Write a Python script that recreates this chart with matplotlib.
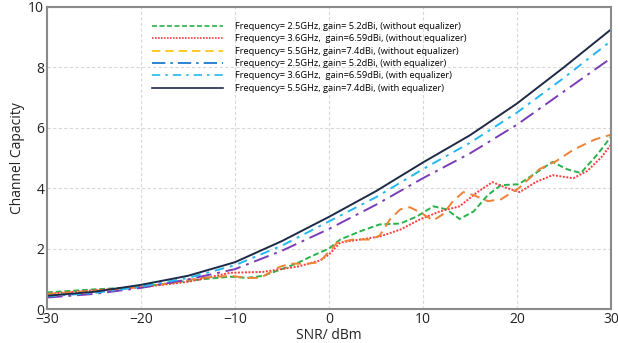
import matplotlib
matplotlib.use("Agg")
import matplotlib.pyplot as plt
from matplotlib.lines import Line2D

plt.rcParams['font.family'] = ['Open Sans', 'DejaVu Sans']

# Smooth "with equalizer" curves
snr_eq = [-30, -25, -20, -15, -10, -5, 0, 5, 10, 15, 20, 25, 30]
cap_25_eq = [0.38, 0.50, 0.70, 0.98, 1.32, 1.93, 2.65, 3.45, 4.33, 5.15, 6.10, 7.2, 8.3]
cap_36_eq = [0.42, 0.53, 0.74, 1.03, 1.45, 2.10, 2.90, 3.70, 4.63, 5.50, 6.50, 7.65, 8.87]
cap_55_eq = [0.44, 0.57, 0.80, 1.10, 1.55, 2.25, 3.05, 3.90, 4.85, 5.75, 6.80, 8.0, 9.25]

# Noisy "without equalizer" curves
snr_25 = [-30, -25, -20, -16, -13, -10.5, -8.7, -7, -5.2, -3.5, -1.7, 0, 1.2, 3.3, 5.4,
          7.6, 9.4, 11.1, 12.5, 13.9, 15.4, 16.9, 18.3, 20.2, 22, 23.8, 25.3, 26.8, 28.6, 30]
cap_25 = [0.55, 0.65, 0.73, 0.9, 1.0, 1.07, 1.03, 1.1, 1.3, 1.5, 1.77, 2.0, 2.3, 2.57, 2.8,
          2.83, 3.07, 3.4, 3.3, 2.98, 3.23, 3.77, 4.1, 4.13, 4.5, 4.87, 4.63, 4.5, 5.13, 5.7]

snr_36 = [-30, -25, -20, -15, -12, -10.5, -7, -3.4, -1, 0, 1.2, 3.3, 5.4, 7.6, 9.7,
          11.8, 13.9, 15.8, 17.4, 18.7, 20.3, 22, 23.8, 26, 27.5, 29, 30]
cap_36 = [0.5, 0.62, 0.72, 0.9, 1.1, 1.2, 1.23, 1.4, 1.6, 1.8, 2.2, 2.3, 2.4, 2.63, 2.97,
          3.23, 3.4, 3.87, 4.2, 4.03, 3.87, 4.2, 4.43, 4.33, 4.57, 5.03, 5.43]

snr_55 = [-30, -25, -20, -16, -13.7, -10.5, -8.7, -7.3, -5.2, -4.1, -2.3, -1, -0.3, 0.9, 2.6,
          4.4, 5.4, 6.5, 7.6, 8.6, 9.7, 11.1, 12.1, 13.2, 14.3, 15.4, 16.9, 18.3, 20.2, 22.4,
          24.2, 26, 28.2, 30]
cap_55 = [0.5, 0.6, 0.72, 0.9, 1.03, 1.1, 1.03, 1.03, 1.4, 1.5, 1.5, 1.55, 1.8, 2.2, 2.3,
          2.3, 2.43, 2.97, 3.3, 3.37, 3.2, 2.93, 3.13, 3.57, 3.87, 3.77, 3.57, 3.63, 4.0, 4.63,
          4.9, 5.27, 5.6, 5.77]

labels = [
    "Frequency= 2.5GHz, gain= 5.2dBi, (without equalizer)",
    "Frequency= 3.6GHz,  gain=6.59dBi, (without equalizer)",
    "Frequency= 5.5GHz, gain=7.4dBi, (without equalizer)",
    "Frequency= 2.5GHz, gain= 5.2dBi, (with equalizer)",
    "Frequency= 3.6GHz,  gain=6.59dBi, (with equalizer)",
    "Frequency= 5.5GHz, gain=7.4dBi, (with equalizer)",
]

fig = plt.figure(figsize=(6.18, 3.43), dpi=100)
ax = fig.add_axes([0.076, 0.099, 0.9125, 0.881])

lw = 1.4
ax.plot(snr_25, cap_25, color='#2bb24c', ls=(0, (3, 1.5)), lw=lw)
ax.plot(snr_36, cap_36, color='#ff3b3b', ls=(0, (1, 0.8)), lw=lw)
ax.plot(snr_55, cap_55, color='#ee8236', ls=(0, (5, 3)), lw=lw)
ax.plot(snr_eq, cap_25_eq, color='#7a3cb8', ls=(0, (8, 3, 1.5, 3)), lw=lw)
ax.plot(snr_eq, cap_36_eq, color='#22b8f0', ls=(0, (5, 3, 1.5, 3)), lw=lw)
ax.plot(snr_eq, cap_55_eq, color='#1e2a45', ls='-', lw=lw)

handles = [
    Line2D([], [], color='#2bb24c', ls=(0, (3, 1.5)), lw=1.2),
    Line2D([], [], color='#ff3b3b', ls=(0, (1, 0.8)), lw=1.2),
    Line2D([], [], color='#ffc000', ls=(0, (5, 3)), lw=1.2),
    Line2D([], [], color='#0a70c8', ls=(0, (8, 3, 1.5, 3)), lw=1.2),
    Line2D([], [], color='#22b8f0', ls=(0, (5, 3, 1.5, 3)), lw=1.2),
    Line2D([], [], color='#1e2a45', ls='-', lw=1.2),
]
ax.legend(handles, labels, loc='upper left', bbox_to_anchor=(0.178, 0.965),
          frameon=False, fontsize=6.7, handlelength=7.6, handletextpad=1.3,
          labelspacing=0.36, borderpad=0)

ax.set_xlim(-30, 30)
ax.set_ylim(0, 10)
ax.set_xticks([-30, -20, -10, 0, 10, 20, 30])
ax.set_yticks([0, 2, 4, 6, 8, 10])
ax.grid(True, color='#d8d8d8', ls=(0, (3, 2)), lw=0.8)
ax.tick_params(length=0, labelsize=10, pad=2, colors='#222222')
for s in ax.spines.values():
    s.set_color('#8a8a8a')
    s.set_linewidth(1.5)
ax.set_xlabel("SNR/ dBm", fontsize=10, labelpad=1, color='#222222')
ax.set_ylabel("Channel Capacity", fontsize=10, labelpad=2, color='#222222')

fig.savefig("out.png", dpi=100)
